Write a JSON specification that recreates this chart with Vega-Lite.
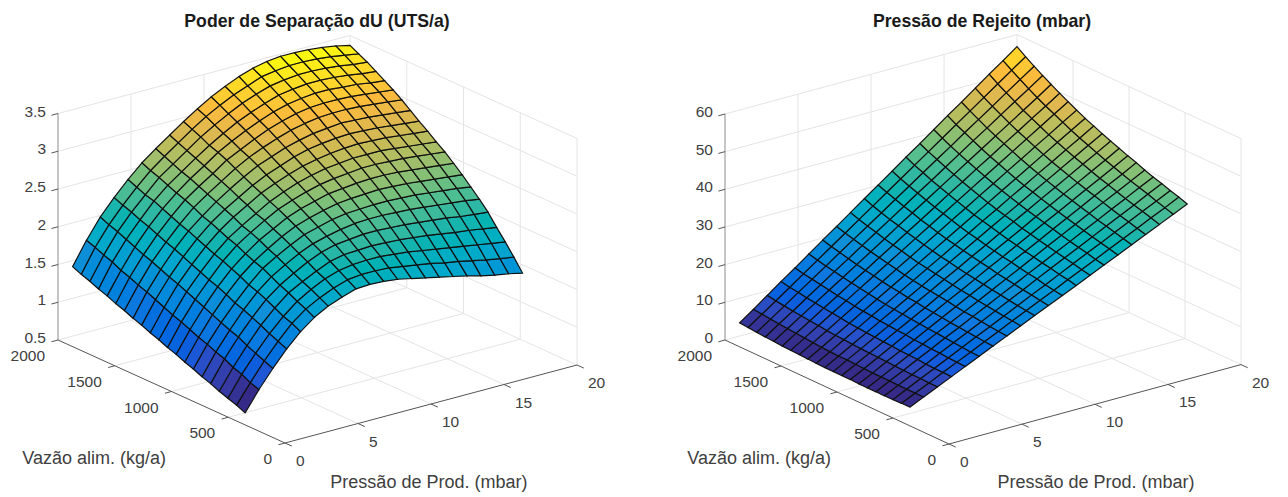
{"$schema":"https://vega.github.io/schema/vega-lite/v6.json","padding":{"left":0,"top":13,"right":0,"bottom":0},"background":"white","spacing":0,"config":{"view":{"stroke":null},"font":"Liberation Sans","title":{"font":"Liberation Sans","fontSize":17.7,"fontWeight":"bold","color":"#1a1a1a","offset":2}},
"datasets":{"gridL":[
{"x":1,"y":480,"z":0.52},{"x":1.95,"y":480,"z":0.78},{"x":2.9,"y":480,"z":1.01},{"x":3.85,"y":480,"z":1.22},{"x":4.8,"y":480,"z":1.4},{"x":5.75,"y":480,"z":1.54},{"x":6.7,"y":480,"z":1.64},{"x":7.65,"y":480,"z":1.71},{"x":8.6,"y":480,"z":1.77},{"x":9.55,"y":480,"z":1.78},{"x":10.5,"y":480,"z":1.77},{"x":11.45,"y":480,"z":1.75},{"x":12.4,"y":480,"z":1.71},{"x":13.35,"y":480,"z":1.67},{"x":14.3,"y":480,"z":1.63},{"x":15.25,"y":480,"z":1.59},{"x":16.2,"y":480,"z":1.55},{"x":17.15,"y":480,"z":1.5},{"x":18.1,"y":480,"z":1.46},{"x":19.05,"y":480,"z":1.43},{"x":20,"y":480,"z":1.39},
{"x":1,"y":556,"z":0.57},{"x":1.95,"y":556,"z":0.82},{"x":2.9,"y":556,"z":1.06},{"x":3.85,"y":556,"z":1.27},{"x":4.8,"y":556,"z":1.46},{"x":5.75,"y":556,"z":1.6},{"x":6.7,"y":556,"z":1.7},{"x":7.65,"y":556,"z":1.78},{"x":8.6,"y":556,"z":1.84},{"x":9.55,"y":556,"z":1.86},{"x":10.5,"y":556,"z":1.86},{"x":11.45,"y":556,"z":1.85},{"x":12.4,"y":556,"z":1.82},{"x":13.35,"y":556,"z":1.79},{"x":14.3,"y":556,"z":1.76},{"x":15.25,"y":556,"z":1.72},{"x":16.2,"y":556,"z":1.69},{"x":17.15,"y":556,"z":1.65},{"x":18.1,"y":556,"z":1.61},{"x":19.05,"y":556,"z":1.58},{"x":20,"y":556,"z":1.55},
{"x":1,"y":632,"z":0.61},{"x":1.95,"y":632,"z":0.88},{"x":2.9,"y":632,"z":1.11},{"x":3.85,"y":632,"z":1.32},{"x":4.8,"y":632,"z":1.5},{"x":5.75,"y":632,"z":1.65},{"x":6.7,"y":632,"z":1.76},{"x":7.65,"y":632,"z":1.85},{"x":8.6,"y":632,"z":1.91},{"x":9.55,"y":632,"z":1.94},{"x":10.5,"y":632,"z":1.95},{"x":11.45,"y":632,"z":1.95},{"x":12.4,"y":632,"z":1.93},{"x":13.35,"y":632,"z":1.91},{"x":14.3,"y":632,"z":1.88},{"x":15.25,"y":632,"z":1.85},{"x":16.2,"y":632,"z":1.82},{"x":17.15,"y":632,"z":1.79},{"x":18.1,"y":632,"z":1.76},{"x":19.05,"y":632,"z":1.73},{"x":20,"y":632,"z":1.7},
{"x":1,"y":708,"z":0.65},{"x":1.95,"y":708,"z":0.92},{"x":2.9,"y":708,"z":1.16},{"x":3.85,"y":708,"z":1.38},{"x":4.8,"y":708,"z":1.56},{"x":5.75,"y":708,"z":1.71},{"x":6.7,"y":708,"z":1.81},{"x":7.65,"y":708,"z":1.9},{"x":8.6,"y":708,"z":1.98},{"x":9.55,"y":708,"z":2.02},{"x":10.5,"y":708,"z":2.03},{"x":11.45,"y":708,"z":2.04},{"x":12.4,"y":708,"z":2.03},{"x":13.35,"y":708,"z":2.02},{"x":14.3,"y":708,"z":2},{"x":15.25,"y":708,"z":1.98},{"x":16.2,"y":708,"z":1.95},{"x":17.15,"y":708,"z":1.92},{"x":18.1,"y":708,"z":1.9},{"x":19.05,"y":708,"z":1.87},{"x":20,"y":708,"z":1.84},
{"x":1,"y":784,"z":0.7},{"x":1.95,"y":784,"z":0.98},{"x":2.9,"y":784,"z":1.22},{"x":3.85,"y":784,"z":1.43},{"x":4.8,"y":784,"z":1.62},{"x":5.75,"y":784,"z":1.76},{"x":6.7,"y":784,"z":1.87},{"x":7.65,"y":784,"z":1.97},{"x":8.6,"y":784,"z":2.05},{"x":9.55,"y":784,"z":2.1},{"x":10.5,"y":784,"z":2.12},{"x":11.45,"y":784,"z":2.14},{"x":12.4,"y":784,"z":2.14},{"x":13.35,"y":784,"z":2.13},{"x":14.3,"y":784,"z":2.12},{"x":15.25,"y":784,"z":2.1},{"x":16.2,"y":784,"z":2.08},{"x":17.15,"y":784,"z":2.06},{"x":18.1,"y":784,"z":2.03},{"x":19.05,"y":784,"z":2.01},{"x":20,"y":784,"z":1.99},
{"x":1,"y":860,"z":0.74},{"x":1.95,"y":860,"z":1.02},{"x":2.9,"y":860,"z":1.26},{"x":3.85,"y":860,"z":1.48},{"x":4.8,"y":860,"z":1.67},{"x":5.75,"y":860,"z":1.82},{"x":6.7,"y":860,"z":1.93},{"x":7.65,"y":860,"z":2.03},{"x":8.6,"y":860,"z":2.11},{"x":9.55,"y":860,"z":2.16},{"x":10.5,"y":860,"z":2.2},{"x":11.45,"y":860,"z":2.23},{"x":12.4,"y":860,"z":2.24},{"x":13.35,"y":860,"z":2.24},{"x":14.3,"y":860,"z":2.23},{"x":15.25,"y":860,"z":2.22},{"x":16.2,"y":860,"z":2.2},{"x":17.15,"y":860,"z":2.18},{"x":18.1,"y":860,"z":2.16},{"x":19.05,"y":860,"z":2.14},{"x":20,"y":860,"z":2.11},
{"x":1,"y":936,"z":0.79},{"x":1.95,"y":936,"z":1.07},{"x":2.9,"y":936,"z":1.31},{"x":3.85,"y":936,"z":1.52},{"x":4.8,"y":936,"z":1.71},{"x":5.75,"y":936,"z":1.88},{"x":6.7,"y":936,"z":1.99},{"x":7.65,"y":936,"z":2.09},{"x":8.6,"y":936,"z":2.18},{"x":9.55,"y":936,"z":2.23},{"x":10.5,"y":936,"z":2.28},{"x":11.45,"y":936,"z":2.31},{"x":12.4,"y":936,"z":2.32},{"x":13.35,"y":936,"z":2.33},{"x":14.3,"y":936,"z":2.33},{"x":15.25,"y":936,"z":2.32},{"x":16.2,"y":936,"z":2.31},{"x":17.15,"y":936,"z":2.29},{"x":18.1,"y":936,"z":2.27},{"x":19.05,"y":936,"z":2.25},{"x":20,"y":936,"z":2.22},
{"x":1,"y":1012,"z":0.83},{"x":1.95,"y":1012,"z":1.11},{"x":2.9,"y":1012,"z":1.36},{"x":3.85,"y":1012,"z":1.58},{"x":4.8,"y":1012,"z":1.77},{"x":5.75,"y":1012,"z":1.92},{"x":6.7,"y":1012,"z":2.04},{"x":7.65,"y":1012,"z":2.15},{"x":8.6,"y":1012,"z":2.24},{"x":9.55,"y":1012,"z":2.3},{"x":10.5,"y":1012,"z":2.35},{"x":11.45,"y":1012,"z":2.39},{"x":12.4,"y":1012,"z":2.41},{"x":13.35,"y":1012,"z":2.42},{"x":14.3,"y":1012,"z":2.43},{"x":15.25,"y":1012,"z":2.42},{"x":16.2,"y":1012,"z":2.41},{"x":17.15,"y":1012,"z":2.39},{"x":18.1,"y":1012,"z":2.37},{"x":19.05,"y":1012,"z":2.35},{"x":20,"y":1012,"z":2.33},
{"x":1,"y":1088,"z":0.88},{"x":1.95,"y":1088,"z":1.16},{"x":2.9,"y":1088,"z":1.41},{"x":3.85,"y":1088,"z":1.63},{"x":4.8,"y":1088,"z":1.82},{"x":5.75,"y":1088,"z":1.97},{"x":6.7,"y":1088,"z":2.1},{"x":7.65,"y":1088,"z":2.2},{"x":8.6,"y":1088,"z":2.3},{"x":9.55,"y":1088,"z":2.37},{"x":10.5,"y":1088,"z":2.42},{"x":11.45,"y":1088,"z":2.47},{"x":12.4,"y":1088,"z":2.49},{"x":13.35,"y":1088,"z":2.51},{"x":14.3,"y":1088,"z":2.52},{"x":15.25,"y":1088,"z":2.52},{"x":16.2,"y":1088,"z":2.51},{"x":17.15,"y":1088,"z":2.49},{"x":18.1,"y":1088,"z":2.47},{"x":19.05,"y":1088,"z":2.45},{"x":20,"y":1088,"z":2.43},
{"x":1,"y":1164,"z":0.92},{"x":1.95,"y":1164,"z":1.21},{"x":2.9,"y":1164,"z":1.46},{"x":3.85,"y":1164,"z":1.67},{"x":4.8,"y":1164,"z":1.87},{"x":5.75,"y":1164,"z":2.03},{"x":6.7,"y":1164,"z":2.15},{"x":7.65,"y":1164,"z":2.26},{"x":8.6,"y":1164,"z":2.36},{"x":9.55,"y":1164,"z":2.43},{"x":10.5,"y":1164,"z":2.49},{"x":11.45,"y":1164,"z":2.54},{"x":12.4,"y":1164,"z":2.57},{"x":13.35,"y":1164,"z":2.59},{"x":14.3,"y":1164,"z":2.61},{"x":15.25,"y":1164,"z":2.61},{"x":16.2,"y":1164,"z":2.6},{"x":17.15,"y":1164,"z":2.59},{"x":18.1,"y":1164,"z":2.57},{"x":19.05,"y":1164,"z":2.55},{"x":20,"y":1164,"z":2.53},
{"x":1,"y":1240,"z":0.97},{"x":1.95,"y":1240,"z":1.25},{"x":2.9,"y":1240,"z":1.51},{"x":3.85,"y":1240,"z":1.72},{"x":4.8,"y":1240,"z":1.91},{"x":5.75,"y":1240,"z":2.07},{"x":6.7,"y":1240,"z":2.19},{"x":7.65,"y":1240,"z":2.3},{"x":8.6,"y":1240,"z":2.41},{"x":9.55,"y":1240,"z":2.49},{"x":10.5,"y":1240,"z":2.56},{"x":11.45,"y":1240,"z":2.61},{"x":12.4,"y":1240,"z":2.65},{"x":13.35,"y":1240,"z":2.67},{"x":14.3,"y":1240,"z":2.69},{"x":15.25,"y":1240,"z":2.69},{"x":16.2,"y":1240,"z":2.69},{"x":17.15,"y":1240,"z":2.67},{"x":18.1,"y":1240,"z":2.65},{"x":19.05,"y":1240,"z":2.63},{"x":20,"y":1240,"z":2.61},
{"x":1,"y":1316,"z":1.01},{"x":1.95,"y":1316,"z":1.3},{"x":2.9,"y":1316,"z":1.56},{"x":3.85,"y":1316,"z":1.77},{"x":4.8,"y":1316,"z":1.96},{"x":5.75,"y":1316,"z":2.12},{"x":6.7,"y":1316,"z":2.25},{"x":7.65,"y":1316,"z":2.36},{"x":8.6,"y":1316,"z":2.47},{"x":9.55,"y":1316,"z":2.55},{"x":10.5,"y":1316,"z":2.62},{"x":11.45,"y":1316,"z":2.68},{"x":12.4,"y":1316,"z":2.72},{"x":13.35,"y":1316,"z":2.75},{"x":14.3,"y":1316,"z":2.77},{"x":15.25,"y":1316,"z":2.78},{"x":16.2,"y":1316,"z":2.77},{"x":17.15,"y":1316,"z":2.76},{"x":18.1,"y":1316,"z":2.74},{"x":19.05,"y":1316,"z":2.72},{"x":20,"y":1316,"z":2.7},
{"x":1,"y":1392,"z":1.06},{"x":1.95,"y":1392,"z":1.35},{"x":2.9,"y":1392,"z":1.6},{"x":3.85,"y":1392,"z":1.82},{"x":4.8,"y":1392,"z":2.01},{"x":5.75,"y":1392,"z":2.17},{"x":6.7,"y":1392,"z":2.3},{"x":7.65,"y":1392,"z":2.41},{"x":8.6,"y":1392,"z":2.52},{"x":9.55,"y":1392,"z":2.61},{"x":10.5,"y":1392,"z":2.68},{"x":11.45,"y":1392,"z":2.75},{"x":12.4,"y":1392,"z":2.8},{"x":13.35,"y":1392,"z":2.83},{"x":14.3,"y":1392,"z":2.85},{"x":15.25,"y":1392,"z":2.86},{"x":16.2,"y":1392,"z":2.85},{"x":17.15,"y":1392,"z":2.84},{"x":18.1,"y":1392,"z":2.82},{"x":19.05,"y":1392,"z":2.8},{"x":20,"y":1392,"z":2.78},
{"x":1,"y":1468,"z":1.1},{"x":1.95,"y":1468,"z":1.4},{"x":2.9,"y":1468,"z":1.65},{"x":3.85,"y":1468,"z":1.87},{"x":4.8,"y":1468,"z":2.06},{"x":5.75,"y":1468,"z":2.21},{"x":6.7,"y":1468,"z":2.35},{"x":7.65,"y":1468,"z":2.47},{"x":8.6,"y":1468,"z":2.58},{"x":9.55,"y":1468,"z":2.68},{"x":10.5,"y":1468,"z":2.75},{"x":11.45,"y":1468,"z":2.82},{"x":12.4,"y":1468,"z":2.87},{"x":13.35,"y":1468,"z":2.91},{"x":14.3,"y":1468,"z":2.93},{"x":15.25,"y":1468,"z":2.95},{"x":16.2,"y":1468,"z":2.94},{"x":17.15,"y":1468,"z":2.93},{"x":18.1,"y":1468,"z":2.91},{"x":19.05,"y":1468,"z":2.89},{"x":20,"y":1468,"z":2.87},
{"x":1,"y":1544,"z":1.15},{"x":1.95,"y":1544,"z":1.44},{"x":2.9,"y":1544,"z":1.7},{"x":3.85,"y":1544,"z":1.91},{"x":4.8,"y":1544,"z":2.1},{"x":5.75,"y":1544,"z":2.27},{"x":6.7,"y":1544,"z":2.4},{"x":7.65,"y":1544,"z":2.52},{"x":8.6,"y":1544,"z":2.64},{"x":9.55,"y":1544,"z":2.74},{"x":10.5,"y":1544,"z":2.82},{"x":11.45,"y":1544,"z":2.89},{"x":12.4,"y":1544,"z":2.95},{"x":13.35,"y":1544,"z":2.99},{"x":14.3,"y":1544,"z":3.02},{"x":15.25,"y":1544,"z":3.03},{"x":16.2,"y":1544,"z":3.03},{"x":17.15,"y":1544,"z":3.02},{"x":18.1,"y":1544,"z":3},{"x":19.05,"y":1544,"z":2.98},{"x":20,"y":1544,"z":2.96},
{"x":1,"y":1620,"z":1.19},{"x":1.95,"y":1620,"z":1.49},{"x":2.9,"y":1620,"z":1.74},{"x":3.85,"y":1620,"z":1.96},{"x":4.8,"y":1620,"z":2.15},{"x":5.75,"y":1620,"z":2.32},{"x":6.7,"y":1620,"z":2.45},{"x":7.65,"y":1620,"z":2.57},{"x":8.6,"y":1620,"z":2.7},{"x":9.55,"y":1620,"z":2.79},{"x":10.5,"y":1620,"z":2.88},{"x":11.45,"y":1620,"z":2.96},{"x":12.4,"y":1620,"z":3.02},{"x":13.35,"y":1620,"z":3.07},{"x":14.3,"y":1620,"z":3.1},{"x":15.25,"y":1620,"z":3.11},{"x":16.2,"y":1620,"z":3.11},{"x":17.15,"y":1620,"z":3.1},{"x":18.1,"y":1620,"z":3.08},{"x":19.05,"y":1620,"z":3.06},{"x":20,"y":1620,"z":3.04},
{"x":1,"y":1696,"z":1.24},{"x":1.95,"y":1696,"z":1.53},{"x":2.9,"y":1696,"z":1.79},{"x":3.85,"y":1696,"z":2.01},{"x":4.8,"y":1696,"z":2.2},{"x":5.75,"y":1696,"z":2.36},{"x":6.7,"y":1696,"z":2.5},{"x":7.65,"y":1696,"z":2.62},{"x":8.6,"y":1696,"z":2.75},{"x":9.55,"y":1696,"z":2.85},{"x":10.5,"y":1696,"z":2.94},{"x":11.45,"y":1696,"z":3.02},{"x":12.4,"y":1696,"z":3.09},{"x":13.35,"y":1696,"z":3.14},{"x":14.3,"y":1696,"z":3.17},{"x":15.25,"y":1696,"z":3.19},{"x":16.2,"y":1696,"z":3.19},{"x":17.15,"y":1696,"z":3.17},{"x":18.1,"y":1696,"z":3.16},{"x":19.05,"y":1696,"z":3.13},{"x":20,"y":1696,"z":3.11},
{"x":1,"y":1772,"z":1.28},{"x":1.95,"y":1772,"z":1.59},{"x":2.9,"y":1772,"z":1.84},{"x":3.85,"y":1772,"z":2.05},{"x":4.8,"y":1772,"z":2.25},{"x":5.75,"y":1772,"z":2.41},{"x":6.7,"y":1772,"z":2.54},{"x":7.65,"y":1772,"z":2.67},{"x":8.6,"y":1772,"z":2.79},{"x":9.55,"y":1772,"z":2.9},{"x":10.5,"y":1772,"z":3},{"x":11.45,"y":1772,"z":3.08},{"x":12.4,"y":1772,"z":3.15},{"x":13.35,"y":1772,"z":3.21},{"x":14.3,"y":1772,"z":3.24},{"x":15.25,"y":1772,"z":3.26},{"x":16.2,"y":1772,"z":3.26},{"x":17.15,"y":1772,"z":3.25},{"x":18.1,"y":1772,"z":3.23},{"x":19.05,"y":1772,"z":3.2},{"x":20,"y":1772,"z":3.18},
{"x":1,"y":1848,"z":1.33},{"x":1.95,"y":1848,"z":1.63},{"x":2.9,"y":1848,"z":1.89},{"x":3.85,"y":1848,"z":2.1},{"x":4.8,"y":1848,"z":2.28},{"x":5.75,"y":1848,"z":2.46},{"x":6.7,"y":1848,"z":2.59},{"x":7.65,"y":1848,"z":2.72},{"x":8.6,"y":1848,"z":2.85},{"x":9.55,"y":1848,"z":2.96},{"x":10.5,"y":1848,"z":3.06},{"x":11.45,"y":1848,"z":3.15},{"x":12.4,"y":1848,"z":3.22},{"x":13.35,"y":1848,"z":3.28},{"x":14.3,"y":1848,"z":3.31},{"x":15.25,"y":1848,"z":3.33},{"x":16.2,"y":1848,"z":3.33},{"x":17.15,"y":1848,"z":3.32},{"x":18.1,"y":1848,"z":3.3},{"x":19.05,"y":1848,"z":3.27},{"x":20,"y":1848,"z":3.25},
{"x":1,"y":1924,"z":1.37},{"x":1.95,"y":1924,"z":1.68},{"x":2.9,"y":1924,"z":1.93},{"x":3.85,"y":1924,"z":2.14},{"x":4.8,"y":1924,"z":2.33},{"x":5.75,"y":1924,"z":2.5},{"x":6.7,"y":1924,"z":2.64},{"x":7.65,"y":1924,"z":2.77},{"x":8.6,"y":1924,"z":2.9},{"x":9.55,"y":1924,"z":3.02},{"x":10.5,"y":1924,"z":3.12},{"x":11.45,"y":1924,"z":3.21},{"x":12.4,"y":1924,"z":3.28},{"x":13.35,"y":1924,"z":3.35},{"x":14.3,"y":1924,"z":3.38},{"x":15.25,"y":1924,"z":3.4},{"x":16.2,"y":1924,"z":3.4},{"x":17.15,"y":1924,"z":3.39},{"x":18.1,"y":1924,"z":3.37},{"x":19.05,"y":1924,"z":3.34},{"x":20,"y":1924,"z":3.31},
{"x":1,"y":2000,"z":1.42},{"x":1.95,"y":2000,"z":1.72},{"x":2.9,"y":2000,"z":1.98},{"x":3.85,"y":2000,"z":2.19},{"x":4.8,"y":2000,"z":2.38},{"x":5.75,"y":2000,"z":2.55},{"x":6.7,"y":2000,"z":2.69},{"x":7.65,"y":2000,"z":2.82},{"x":8.6,"y":2000,"z":2.95},{"x":9.55,"y":2000,"z":3.07},{"x":10.5,"y":2000,"z":3.18},{"x":11.45,"y":2000,"z":3.27},{"x":12.4,"y":2000,"z":3.35},{"x":13.35,"y":2000,"z":3.41},{"x":14.3,"y":2000,"z":3.45},{"x":15.25,"y":2000,"z":3.47},{"x":16.2,"y":2000,"z":3.47},{"x":17.15,"y":2000,"z":3.46},{"x":18.1,"y":2000,"z":3.44},{"x":19.05,"y":2000,"z":3.41},{"x":20,"y":2000,"z":3.37}],
"gridR":[
{"x":1,"y":480,"z":2.1},{"x":1.95,"y":480,"z":3.8},{"x":2.9,"y":480,"z":5.5},{"x":3.85,"y":480,"z":7.2},{"x":4.8,"y":480,"z":8.9},{"x":5.75,"y":480,"z":10.6},{"x":6.7,"y":480,"z":12.3},{"x":7.65,"y":480,"z":14},{"x":8.6,"y":480,"z":15.7},{"x":9.55,"y":480,"z":17.4},{"x":10.5,"y":480,"z":19.05},{"x":11.45,"y":480,"z":20.7},{"x":12.4,"y":480,"z":22.4},{"x":13.35,"y":480,"z":24.1},{"x":14.3,"y":480,"z":25.8},{"x":15.25,"y":480,"z":27.5},{"x":16.2,"y":480,"z":29.2},{"x":17.15,"y":480,"z":30.9},{"x":18.1,"y":480,"z":32.6},{"x":19.05,"y":480,"z":34.3},{"x":20,"y":480,"z":36},
{"x":1,"y":556,"z":2.1},{"x":1.95,"y":556,"z":3.8},{"x":2.9,"y":556,"z":5.5},{"x":3.85,"y":556,"z":7.3},{"x":4.8,"y":556,"z":9},{"x":5.75,"y":556,"z":10.7},{"x":6.7,"y":556,"z":12.5},{"x":7.65,"y":556,"z":14.2},{"x":8.6,"y":556,"z":16},{"x":9.55,"y":556,"z":17.7},{"x":10.5,"y":556,"z":19.4},{"x":11.45,"y":556,"z":21.1},{"x":12.4,"y":556,"z":22.9},{"x":13.35,"y":556,"z":24.6},{"x":14.3,"y":556,"z":26.3},{"x":15.25,"y":556,"z":28.1},{"x":16.2,"y":556,"z":29.8},{"x":17.15,"y":556,"z":31.5},{"x":18.1,"y":556,"z":33.3},{"x":19.05,"y":556,"z":35},{"x":20,"y":556,"z":36.8},
{"x":1,"y":632,"z":2},{"x":1.95,"y":632,"z":3.8},{"x":2.9,"y":632,"z":5.6},{"x":3.85,"y":632,"z":7.3},{"x":4.8,"y":632,"z":9.1},{"x":5.75,"y":632,"z":10.9},{"x":6.7,"y":632,"z":12.7},{"x":7.65,"y":632,"z":14.4},{"x":8.6,"y":632,"z":16.2},{"x":9.55,"y":632,"z":18},{"x":10.5,"y":632,"z":19.8},{"x":11.45,"y":632,"z":21.5},{"x":12.4,"y":632,"z":23.3},{"x":13.35,"y":632,"z":25.1},{"x":14.3,"y":632,"z":26.9},{"x":15.25,"y":632,"z":28.6},{"x":16.2,"y":632,"z":30.4},{"x":17.15,"y":632,"z":32.2},{"x":18.1,"y":632,"z":34},{"x":19.05,"y":632,"z":35.7},{"x":20,"y":632,"z":37.5},
{"x":1,"y":708,"z":2},{"x":1.95,"y":708,"z":3.8},{"x":2.9,"y":708,"z":5.6},{"x":3.85,"y":708,"z":7.4},{"x":4.8,"y":708,"z":9.3},{"x":5.75,"y":708,"z":11.1},{"x":6.7,"y":708,"z":12.9},{"x":7.65,"y":708,"z":14.7},{"x":8.6,"y":708,"z":16.5},{"x":9.55,"y":708,"z":18.3},{"x":10.5,"y":708,"z":20.1},{"x":11.45,"y":708,"z":22},{"x":12.4,"y":708,"z":23.8},{"x":13.35,"y":708,"z":25.6},{"x":14.3,"y":708,"z":27.4},{"x":15.25,"y":708,"z":29.2},{"x":16.2,"y":708,"z":31},{"x":17.15,"y":708,"z":32.8},{"x":18.1,"y":708,"z":34.6},{"x":19.05,"y":708,"z":36.5},{"x":20,"y":708,"z":38.3},
{"x":1,"y":784,"z":2},{"x":1.95,"y":784,"z":3.9},{"x":2.9,"y":784,"z":5.7},{"x":3.85,"y":784,"z":7.6},{"x":4.8,"y":784,"z":9.4},{"x":5.75,"y":784,"z":11.3},{"x":6.7,"y":784,"z":13.1},{"x":7.65,"y":784,"z":15},{"x":8.6,"y":784,"z":16.8},{"x":9.55,"y":784,"z":18.7},{"x":10.5,"y":784,"z":20.5},{"x":11.45,"y":784,"z":22.4},{"x":12.4,"y":784,"z":24.2},{"x":13.35,"y":784,"z":26.1},{"x":14.3,"y":784,"z":27.9},{"x":15.25,"y":784,"z":29.8},{"x":16.2,"y":784,"z":31.6},{"x":17.15,"y":784,"z":33.5},{"x":18.1,"y":784,"z":35.3},{"x":19.05,"y":784,"z":37.2},{"x":20,"y":784,"z":39},
{"x":1,"y":860,"z":2},{"x":1.95,"y":860,"z":3.9},{"x":2.9,"y":860,"z":5.8},{"x":3.85,"y":860,"z":7.7},{"x":4.8,"y":860,"z":9.6},{"x":5.75,"y":860,"z":11.5},{"x":6.7,"y":860,"z":13.3},{"x":7.65,"y":860,"z":15.2},{"x":8.6,"y":860,"z":17.1},{"x":9.55,"y":860,"z":19},{"x":10.5,"y":860,"z":20.9},{"x":11.45,"y":860,"z":22.8},{"x":12.4,"y":860,"z":24.7},{"x":13.35,"y":860,"z":26.6},{"x":14.3,"y":860,"z":28.5},{"x":15.25,"y":860,"z":30.4},{"x":16.2,"y":860,"z":32.3},{"x":17.15,"y":860,"z":34.2},{"x":18.1,"y":860,"z":36},{"x":19.05,"y":860,"z":37.9},{"x":20,"y":860,"z":39.8},
{"x":1,"y":936,"z":2},{"x":1.95,"y":936,"z":3.9},{"x":2.9,"y":936,"z":5.9},{"x":3.85,"y":936,"z":7.8},{"x":4.8,"y":936,"z":9.7},{"x":5.75,"y":936,"z":11.7},{"x":6.7,"y":936,"z":13.6},{"x":7.65,"y":936,"z":15.5},{"x":8.6,"y":936,"z":17.5},{"x":9.55,"y":936,"z":19.4},{"x":10.5,"y":936,"z":21.3},{"x":11.45,"y":936,"z":23.3},{"x":12.4,"y":936,"z":25.2},{"x":13.35,"y":936,"z":27.1},{"x":14.3,"y":936,"z":29.1},{"x":15.25,"y":936,"z":31},{"x":16.2,"y":936,"z":32.9},{"x":17.15,"y":936,"z":34.9},{"x":18.1,"y":936,"z":36.8},{"x":19.05,"y":936,"z":38.7},{"x":20,"y":936,"z":40.7},
{"x":1,"y":1012,"z":2.1},{"x":1.95,"y":1012,"z":4},{"x":2.9,"y":1012,"z":6},{"x":3.85,"y":1012,"z":8},{"x":4.8,"y":1012,"z":10},{"x":5.75,"y":1012,"z":11.9},{"x":6.7,"y":1012,"z":13.9},{"x":7.65,"y":1012,"z":15.9},{"x":8.6,"y":1012,"z":17.8},{"x":9.55,"y":1012,"z":19.8},{"x":10.5,"y":1012,"z":21.8},{"x":11.45,"y":1012,"z":23.7},{"x":12.4,"y":1012,"z":25.7},{"x":13.35,"y":1012,"z":27.7},{"x":14.3,"y":1012,"z":29.7},{"x":15.25,"y":1012,"z":31.6},{"x":16.2,"y":1012,"z":33.6},{"x":17.15,"y":1012,"z":35.6},{"x":18.1,"y":1012,"z":37.5},{"x":19.05,"y":1012,"z":39.5},{"x":20,"y":1012,"z":41.5},
{"x":1,"y":1088,"z":2.1},{"x":1.95,"y":1088,"z":4.1},{"x":2.9,"y":1088,"z":6.1},{"x":3.85,"y":1088,"z":8.1},{"x":4.8,"y":1088,"z":10.1},{"x":5.75,"y":1088,"z":12.1},{"x":6.7,"y":1088,"z":14.1},{"x":7.65,"y":1088,"z":16.2},{"x":8.6,"y":1088,"z":18.2},{"x":9.55,"y":1088,"z":20.2},{"x":10.5,"y":1088,"z":22.2},{"x":11.45,"y":1088,"z":24.2},{"x":12.4,"y":1088,"z":26.2},{"x":13.35,"y":1088,"z":28.2},{"x":14.3,"y":1088,"z":30.3},{"x":15.25,"y":1088,"z":32.3},{"x":16.2,"y":1088,"z":34.3},{"x":17.15,"y":1088,"z":36.3},{"x":18.1,"y":1088,"z":38.3},{"x":19.05,"y":1088,"z":40.3},{"x":20,"y":1088,"z":42.4},
{"x":1,"y":1164,"z":2.1},{"x":1.95,"y":1164,"z":4.2},{"x":2.9,"y":1164,"z":6.2},{"x":3.85,"y":1164,"z":8.3},{"x":4.8,"y":1164,"z":10.3},{"x":5.75,"y":1164,"z":12.4},{"x":6.7,"y":1164,"z":14.5},{"x":7.65,"y":1164,"z":16.5},{"x":8.6,"y":1164,"z":18.6},{"x":9.55,"y":1164,"z":20.6},{"x":10.5,"y":1164,"z":22.7},{"x":11.45,"y":1164,"z":24.7},{"x":12.4,"y":1164,"z":26.8},{"x":13.35,"y":1164,"z":28.9},{"x":14.3,"y":1164,"z":30.9},{"x":15.25,"y":1164,"z":33},{"x":16.2,"y":1164,"z":35},{"x":17.15,"y":1164,"z":37.1},{"x":18.1,"y":1164,"z":39.2},{"x":19.05,"y":1164,"z":41.2},{"x":20,"y":1164,"z":43.3},
{"x":1,"y":1240,"z":2.1},{"x":1.95,"y":1240,"z":4.2},{"x":2.9,"y":1240,"z":6.3},{"x":3.85,"y":1240,"z":8.4},{"x":4.8,"y":1240,"z":10.5},{"x":5.75,"y":1240,"z":12.6},{"x":6.7,"y":1240,"z":14.7},{"x":7.65,"y":1240,"z":16.8},{"x":8.6,"y":1240,"z":19},{"x":9.55,"y":1240,"z":21.1},{"x":10.5,"y":1240,"z":23.2},{"x":11.45,"y":1240,"z":25.3},{"x":12.4,"y":1240,"z":27.4},{"x":13.35,"y":1240,"z":29.5},{"x":14.3,"y":1240,"z":31.6},{"x":15.25,"y":1240,"z":33.7},{"x":16.2,"y":1240,"z":35.8},{"x":17.15,"y":1240,"z":37.9},{"x":18.1,"y":1240,"z":40},{"x":19.05,"y":1240,"z":42.1},{"x":20,"y":1240,"z":44.2},
{"x":1,"y":1316,"z":2.2},{"x":1.95,"y":1316,"z":4.3},{"x":2.9,"y":1316,"z":6.5},{"x":3.85,"y":1316,"z":8.6},{"x":4.8,"y":1316,"z":10.8},{"x":5.75,"y":1316,"z":12.9},{"x":6.7,"y":1316,"z":15.1},{"x":7.65,"y":1316,"z":17.2},{"x":8.6,"y":1316,"z":19.4},{"x":9.55,"y":1316,"z":21.5},{"x":10.5,"y":1316,"z":23.7},{"x":11.45,"y":1316,"z":25.8},{"x":12.4,"y":1316,"z":28},{"x":13.35,"y":1316,"z":30.1},{"x":14.3,"y":1316,"z":32.3},{"x":15.25,"y":1316,"z":34.4},{"x":16.2,"y":1316,"z":36.6},{"x":17.15,"y":1316,"z":38.7},{"x":18.1,"y":1316,"z":40.9},{"x":19.05,"y":1316,"z":43},{"x":20,"y":1316,"z":45.2},
{"x":1,"y":1392,"z":2.3},{"x":1.95,"y":1392,"z":4.4},{"x":2.9,"y":1392,"z":6.6},{"x":3.85,"y":1392,"z":8.8},{"x":4.8,"y":1392,"z":11},{"x":5.75,"y":1392,"z":13.2},{"x":6.7,"y":1392,"z":15.4},{"x":7.65,"y":1392,"z":17.6},{"x":8.6,"y":1392,"z":19.8},{"x":9.55,"y":1392,"z":22},{"x":10.5,"y":1392,"z":24.2},{"x":11.45,"y":1392,"z":26.4},{"x":12.4,"y":1392,"z":28.6},{"x":13.35,"y":1392,"z":30.8},{"x":14.3,"y":1392,"z":33},{"x":15.25,"y":1392,"z":35.2},{"x":16.2,"y":1392,"z":37.4},{"x":17.15,"y":1392,"z":39.6},{"x":18.1,"y":1392,"z":41.8},{"x":19.05,"y":1392,"z":44},{"x":20,"y":1392,"z":46.2},
{"x":1,"y":1468,"z":2.4},{"x":1.95,"y":1468,"z":4.6},{"x":2.9,"y":1468,"z":6.8},{"x":3.85,"y":1468,"z":9.1},{"x":4.8,"y":1468,"z":11.3},{"x":5.75,"y":1468,"z":13.6},{"x":6.7,"y":1468,"z":15.8},{"x":7.65,"y":1468,"z":18.1},{"x":8.6,"y":1468,"z":20.3},{"x":9.55,"y":1468,"z":22.6},{"x":10.5,"y":1468,"z":24.8},{"x":11.45,"y":1468,"z":27.1},{"x":12.4,"y":1468,"z":29.3},{"x":13.35,"y":1468,"z":31.6},{"x":14.3,"y":1468,"z":33.8},{"x":15.25,"y":1468,"z":36.1},{"x":16.2,"y":1468,"z":38.3},{"x":17.15,"y":1468,"z":40.6},{"x":18.1,"y":1468,"z":42.8},{"x":19.05,"y":1468,"z":45.1},{"x":20,"y":1468,"z":47.3},
{"x":1,"y":1544,"z":2.5},{"x":1.95,"y":1544,"z":4.8},{"x":2.9,"y":1544,"z":7.1},{"x":3.85,"y":1544,"z":9.4},{"x":4.8,"y":1544,"z":11.7},{"x":5.75,"y":1544,"z":14},{"x":6.7,"y":1544,"z":16.3},{"x":7.65,"y":1544,"z":18.6},{"x":8.6,"y":1544,"z":20.9},{"x":9.55,"y":1544,"z":23.2},{"x":10.5,"y":1544,"z":25.5},{"x":11.45,"y":1544,"z":27.8},{"x":12.4,"y":1544,"z":30.1},{"x":13.35,"y":1544,"z":32.4},{"x":14.3,"y":1544,"z":34.7},{"x":15.25,"y":1544,"z":37},{"x":16.2,"y":1544,"z":39.3},{"x":17.15,"y":1544,"z":41.6},{"x":18.1,"y":1544,"z":43.9},{"x":19.05,"y":1544,"z":46.2},{"x":20,"y":1544,"z":48.5},
{"x":1,"y":1620,"z":2.6},{"x":1.95,"y":1620,"z":5},{"x":2.9,"y":1620,"z":7.3},{"x":3.85,"y":1620,"z":9.7},{"x":4.8,"y":1620,"z":12},{"x":5.75,"y":1620,"z":14.4},{"x":6.7,"y":1620,"z":16.7},{"x":7.65,"y":1620,"z":19.1},{"x":8.6,"y":1620,"z":21.4},{"x":9.55,"y":1620,"z":23.8},{"x":10.5,"y":1620,"z":26.1},{"x":11.45,"y":1620,"z":28.5},{"x":12.4,"y":1620,"z":30.9},{"x":13.35,"y":1620,"z":33.2},{"x":14.3,"y":1620,"z":35.6},{"x":15.25,"y":1620,"z":37.9},{"x":16.2,"y":1620,"z":40.3},{"x":17.15,"y":1620,"z":42.6},{"x":18.1,"y":1620,"z":45},{"x":19.05,"y":1620,"z":47.3},{"x":20,"y":1620,"z":49.7},
{"x":1,"y":1696,"z":2.8},{"x":1.95,"y":1696,"z":5.2},{"x":2.9,"y":1696,"z":7.6},{"x":3.85,"y":1696,"z":10},{"x":4.8,"y":1696,"z":12.4},{"x":5.75,"y":1696,"z":14.8},{"x":6.7,"y":1696,"z":17.2},{"x":7.65,"y":1696,"z":19.6},{"x":8.6,"y":1696,"z":22},{"x":9.55,"y":1696,"z":24.5},{"x":10.5,"y":1696,"z":26.9},{"x":11.45,"y":1696,"z":29.3},{"x":12.4,"y":1696,"z":31.7},{"x":13.35,"y":1696,"z":34.1},{"x":14.3,"y":1696,"z":36.5},{"x":15.25,"y":1696,"z":38.9},{"x":16.2,"y":1696,"z":41.3},{"x":17.15,"y":1696,"z":43.7},{"x":18.1,"y":1696,"z":46.1},{"x":19.05,"y":1696,"z":48.5},{"x":20,"y":1696,"z":51},
{"x":1,"y":1772,"z":2.9},{"x":1.95,"y":1772,"z":5.4},{"x":2.9,"y":1772,"z":7.8},{"x":3.85,"y":1772,"z":10.3},{"x":4.8,"y":1772,"z":12.8},{"x":5.75,"y":1772,"z":15.3},{"x":6.7,"y":1772,"z":17.7},{"x":7.65,"y":1772,"z":20.2},{"x":8.6,"y":1772,"z":22.7},{"x":9.55,"y":1772,"z":25.1},{"x":10.5,"y":1772,"z":27.6},{"x":11.45,"y":1772,"z":30.1},{"x":12.4,"y":1772,"z":32.5},{"x":13.35,"y":1772,"z":35},{"x":14.3,"y":1772,"z":37.5},{"x":15.25,"y":1772,"z":40},{"x":16.2,"y":1772,"z":42.4},{"x":17.15,"y":1772,"z":44.9},{"x":18.1,"y":1772,"z":47.4},{"x":19.05,"y":1772,"z":49.8},{"x":20,"y":1772,"z":52.3},
{"x":1,"y":1848,"z":3.1},{"x":1.95,"y":1848,"z":5.6},{"x":2.9,"y":1848,"z":8.1},{"x":3.85,"y":1848,"z":10.7},{"x":4.8,"y":1848,"z":13.2},{"x":5.75,"y":1848,"z":15.7},{"x":6.7,"y":1848,"z":18.3},{"x":7.65,"y":1848,"z":20.8},{"x":8.6,"y":1848,"z":23.3},{"x":9.55,"y":1848,"z":25.8},{"x":10.5,"y":1848,"z":28.4},{"x":11.45,"y":1848,"z":30.9},{"x":12.4,"y":1848,"z":33.5},{"x":13.35,"y":1848,"z":36},{"x":14.3,"y":1848,"z":38.5},{"x":15.25,"y":1848,"z":41.1},{"x":16.2,"y":1848,"z":43.6},{"x":17.15,"y":1848,"z":46.1},{"x":18.1,"y":1848,"z":48.7},{"x":19.05,"y":1848,"z":51.2},{"x":20,"y":1848,"z":53.7},
{"x":1,"y":1924,"z":3.3},{"x":1.95,"y":1924,"z":5.9},{"x":2.9,"y":1924,"z":8.4},{"x":3.85,"y":1924,"z":11},{"x":4.8,"y":1924,"z":13.6},{"x":5.75,"y":1924,"z":16.2},{"x":6.7,"y":1924,"z":18.8},{"x":7.65,"y":1924,"z":21.4},{"x":8.6,"y":1924,"z":24},{"x":9.55,"y":1924,"z":26.6},{"x":10.5,"y":1924,"z":29.2},{"x":11.45,"y":1924,"z":31.8},{"x":12.4,"y":1924,"z":34.4},{"x":13.35,"y":1924,"z":37},{"x":14.3,"y":1924,"z":39.6},{"x":15.25,"y":1924,"z":42.2},{"x":16.2,"y":1924,"z":44.8},{"x":17.15,"y":1924,"z":47.4},{"x":18.1,"y":1924,"z":50},{"x":19.05,"y":1924,"z":52.6},{"x":20,"y":1924,"z":55.2},
{"x":1,"y":2000,"z":3.5},{"x":1.95,"y":2000,"z":6.1},{"x":2.9,"y":2000,"z":8.8},{"x":3.85,"y":2000,"z":11.5},{"x":4.8,"y":2000,"z":14.1},{"x":5.75,"y":2000,"z":16.8},{"x":6.7,"y":2000,"z":19.5},{"x":7.65,"y":2000,"z":22.1},{"x":8.6,"y":2000,"z":24.8},{"x":9.55,"y":2000,"z":27.5},{"x":10.5,"y":2000,"z":30.1},{"x":11.45,"y":2000,"z":32.8},{"x":12.4,"y":2000,"z":35.5},{"x":13.35,"y":2000,"z":38.1},{"x":14.3,"y":2000,"z":40.8},{"x":15.25,"y":2000,"z":43.5},{"x":16.2,"y":2000,"z":46.1},{"x":17.15,"y":2000,"z":48.8},{"x":18.1,"y":2000,"z":51.5},{"x":19.05,"y":2000,"z":54.1},{"x":20,"y":2000,"z":56.8}],
"segL":[
{"k":"g","x1":5,"y1":0,"z1":0.5,"x2":5,"y2":2000,"z2":0.5},{"k":"g","x1":10,"y1":0,"z1":0.5,"x2":10,"y2":2000,"z2":0.5},{"k":"g","x1":15,"y1":0,"z1":0.5,"x2":15,"y2":2000,"z2":0.5},{"k":"g","x1":20,"y1":0,"z1":0.5,"x2":20,"y2":2000,"z2":0.5},
{"k":"g","x1":0,"y1":500,"z1":0.5,"x2":20,"y2":500,"z2":0.5},{"k":"g","x1":0,"y1":1000,"z1":0.5,"x2":20,"y2":1000,"z2":0.5},{"k":"g","x1":0,"y1":1500,"z1":0.5,"x2":20,"y2":1500,"z2":0.5},{"k":"g","x1":0,"y1":2000,"z1":0.5,"x2":20,"y2":2000,"z2":0.5},
{"k":"g","x1":5,"y1":2000,"z1":0.5,"x2":5,"y2":2000,"z2":3.5},{"k":"g","x1":10,"y1":2000,"z1":0.5,"x2":10,"y2":2000,"z2":3.5},{"k":"g","x1":15,"y1":2000,"z1":0.5,"x2":15,"y2":2000,"z2":3.5},{"k":"g","x1":20,"y1":2000,"z1":0.5,"x2":20,"y2":2000,"z2":3.5},
{"k":"g","x1":20,"y1":0,"z1":0.5,"x2":20,"y2":0,"z2":3.5},{"k":"g","x1":20,"y1":500,"z1":0.5,"x2":20,"y2":500,"z2":3.5},{"k":"g","x1":20,"y1":1000,"z1":0.5,"x2":20,"y2":1000,"z2":3.5},{"k":"g","x1":20,"y1":1500,"z1":0.5,"x2":20,"y2":1500,"z2":3.5},
{"k":"g","x1":0,"y1":2000,"z1":1,"x2":20,"y2":2000,"z2":1},{"k":"g","x1":0,"y1":2000,"z1":1.5,"x2":20,"y2":2000,"z2":1.5},{"k":"g","x1":0,"y1":2000,"z1":2,"x2":20,"y2":2000,"z2":2},{"k":"g","x1":0,"y1":2000,"z1":2.5,"x2":20,"y2":2000,"z2":2.5},{"k":"g","x1":0,"y1":2000,"z1":3,"x2":20,"y2":2000,"z2":3},{"k":"g","x1":0,"y1":2000,"z1":3.5,"x2":20,"y2":2000,"z2":3.5},
{"k":"g","x1":20,"y1":0,"z1":1,"x2":20,"y2":2000,"z2":1},{"k":"g","x1":20,"y1":0,"z1":1.5,"x2":20,"y2":2000,"z2":1.5},{"k":"g","x1":20,"y1":0,"z1":2,"x2":20,"y2":2000,"z2":2},{"k":"g","x1":20,"y1":0,"z1":2.5,"x2":20,"y2":2000,"z2":2.5},{"k":"g","x1":20,"y1":0,"z1":3,"x2":20,"y2":2000,"z2":3},{"k":"g","x1":20,"y1":0,"z1":3.5,"x2":20,"y2":2000,"z2":3.5},
{"k":"a","x1":0,"y1":0,"z1":0.5,"x2":20,"y2":0,"z2":0.5},{"k":"a","x1":0,"y1":0,"z1":0.5,"x2":0,"y2":2000,"z2":0.5},{"k":"z","x1":0,"y1":2000,"z1":0.5,"x2":0,"y2":2000,"z2":3.5},
{"k":"a","x1":0,"y1":0,"z1":0.5,"x2":0,"y2":-60,"z2":0.5},{"k":"a","x1":5,"y1":0,"z1":0.5,"x2":5,"y2":-60,"z2":0.5},{"k":"a","x1":10,"y1":0,"z1":0.5,"x2":10,"y2":-60,"z2":0.5},{"k":"a","x1":15,"y1":0,"z1":0.5,"x2":15,"y2":-60,"z2":0.5},{"k":"a","x1":20,"y1":0,"z1":0.5,"x2":20,"y2":-60,"z2":0.5},
{"k":"a","x1":0,"y1":0,"z1":0.5,"x2":-0.45,"y2":0,"z2":0.5},{"k":"a","x1":0,"y1":500,"z1":0.5,"x2":-0.45,"y2":500,"z2":0.5},{"k":"a","x1":0,"y1":1000,"z1":0.5,"x2":-0.45,"y2":1000,"z2":0.5},{"k":"a","x1":0,"y1":1500,"z1":0.5,"x2":-0.45,"y2":1500,"z2":0.5},{"k":"a","x1":0,"y1":2000,"z1":0.5,"x2":-0.45,"y2":2000,"z2":0.5},
{"k":"a","x1":0,"y1":2000,"z1":1,"x2":-0.45,"y2":2000,"z2":1},{"k":"a","x1":0,"y1":2000,"z1":1.5,"x2":-0.45,"y2":2000,"z2":1.5},{"k":"a","x1":0,"y1":2000,"z1":2,"x2":-0.45,"y2":2000,"z2":2},{"k":"a","x1":0,"y1":2000,"z1":2.5,"x2":-0.45,"y2":2000,"z2":2.5},{"k":"a","x1":0,"y1":2000,"z1":3,"x2":-0.45,"y2":2000,"z2":3},{"k":"a","x1":0,"y1":2000,"z1":3.5,"x2":-0.45,"y2":2000,"z2":3.5}],
"segR":[
{"k":"g","x1":5,"y1":0,"z1":0,"x2":5,"y2":2000,"z2":0},{"k":"g","x1":10,"y1":0,"z1":0,"x2":10,"y2":2000,"z2":0},{"k":"g","x1":15,"y1":0,"z1":0,"x2":15,"y2":2000,"z2":0},{"k":"g","x1":20,"y1":0,"z1":0,"x2":20,"y2":2000,"z2":0},
{"k":"g","x1":0,"y1":500,"z1":0,"x2":20,"y2":500,"z2":0},{"k":"g","x1":0,"y1":1000,"z1":0,"x2":20,"y2":1000,"z2":0},{"k":"g","x1":0,"y1":1500,"z1":0,"x2":20,"y2":1500,"z2":0},{"k":"g","x1":0,"y1":2000,"z1":0,"x2":20,"y2":2000,"z2":0},
{"k":"g","x1":5,"y1":2000,"z1":0,"x2":5,"y2":2000,"z2":60},{"k":"g","x1":10,"y1":2000,"z1":0,"x2":10,"y2":2000,"z2":60},{"k":"g","x1":15,"y1":2000,"z1":0,"x2":15,"y2":2000,"z2":60},{"k":"g","x1":20,"y1":2000,"z1":0,"x2":20,"y2":2000,"z2":60},
{"k":"g","x1":20,"y1":0,"z1":0,"x2":20,"y2":0,"z2":60},{"k":"g","x1":20,"y1":500,"z1":0,"x2":20,"y2":500,"z2":60},{"k":"g","x1":20,"y1":1000,"z1":0,"x2":20,"y2":1000,"z2":60},{"k":"g","x1":20,"y1":1500,"z1":0,"x2":20,"y2":1500,"z2":60},
{"k":"g","x1":0,"y1":2000,"z1":10,"x2":20,"y2":2000,"z2":10},{"k":"g","x1":0,"y1":2000,"z1":20,"x2":20,"y2":2000,"z2":20},{"k":"g","x1":0,"y1":2000,"z1":30,"x2":20,"y2":2000,"z2":30},{"k":"g","x1":0,"y1":2000,"z1":40,"x2":20,"y2":2000,"z2":40},{"k":"g","x1":0,"y1":2000,"z1":50,"x2":20,"y2":2000,"z2":50},{"k":"g","x1":0,"y1":2000,"z1":60,"x2":20,"y2":2000,"z2":60},
{"k":"g","x1":20,"y1":0,"z1":10,"x2":20,"y2":2000,"z2":10},{"k":"g","x1":20,"y1":0,"z1":20,"x2":20,"y2":2000,"z2":20},{"k":"g","x1":20,"y1":0,"z1":30,"x2":20,"y2":2000,"z2":30},{"k":"g","x1":20,"y1":0,"z1":40,"x2":20,"y2":2000,"z2":40},{"k":"g","x1":20,"y1":0,"z1":50,"x2":20,"y2":2000,"z2":50},{"k":"g","x1":20,"y1":0,"z1":60,"x2":20,"y2":2000,"z2":60},
{"k":"a","x1":0,"y1":0,"z1":0,"x2":20,"y2":0,"z2":0},{"k":"a","x1":0,"y1":0,"z1":0,"x2":0,"y2":2000,"z2":0},{"k":"z","x1":0,"y1":2000,"z1":0,"x2":0,"y2":2000,"z2":60},
{"k":"a","x1":0,"y1":0,"z1":0,"x2":0,"y2":-60,"z2":0},{"k":"a","x1":5,"y1":0,"z1":0,"x2":5,"y2":-60,"z2":0},{"k":"a","x1":10,"y1":0,"z1":0,"x2":10,"y2":-60,"z2":0},{"k":"a","x1":15,"y1":0,"z1":0,"x2":15,"y2":-60,"z2":0},{"k":"a","x1":20,"y1":0,"z1":0,"x2":20,"y2":-60,"z2":0},
{"k":"a","x1":0,"y1":0,"z1":0,"x2":-0.45,"y2":0,"z2":0},{"k":"a","x1":0,"y1":500,"z1":0,"x2":-0.45,"y2":500,"z2":0},{"k":"a","x1":0,"y1":1000,"z1":0,"x2":-0.45,"y2":1000,"z2":0},{"k":"a","x1":0,"y1":1500,"z1":0,"x2":-0.45,"y2":1500,"z2":0},{"k":"a","x1":0,"y1":2000,"z1":0,"x2":-0.45,"y2":2000,"z2":0},
{"k":"a","x1":0,"y1":2000,"z1":10,"x2":-0.45,"y2":2000,"z2":10},{"k":"a","x1":0,"y1":2000,"z1":20,"x2":-0.45,"y2":2000,"z2":20},{"k":"a","x1":0,"y1":2000,"z1":30,"x2":-0.45,"y2":2000,"z2":30},{"k":"a","x1":0,"y1":2000,"z1":40,"x2":-0.45,"y2":2000,"z2":40},{"k":"a","x1":0,"y1":2000,"z1":50,"x2":-0.45,"y2":2000,"z2":50},{"k":"a","x1":0,"y1":2000,"z1":60,"x2":-0.45,"y2":2000,"z2":60}],
"labL":[
{"x":0,"y":0,"z":0.5,"t":"0","r":"y"},{"x":0,"y":500,"z":0.5,"t":"500","r":"y"},{"x":0,"y":1000,"z":0.5,"t":"1000","r":"y"},{"x":0,"y":1500,"z":0.5,"t":"1500","r":"y"},{"x":0,"y":2000,"z":0.5,"t":"2000","r":"y"},
{"x":0,"y":0,"z":0.5,"t":"0","r":"x"},{"x":5,"y":0,"z":0.5,"t":"5","r":"x"},{"x":10,"y":0,"z":0.5,"t":"10","r":"x"},{"x":15,"y":0,"z":0.5,"t":"15","r":"x"},{"x":20,"y":0,"z":0.5,"t":"20","r":"x"},
{"x":0,"y":2000,"z":0.5,"t":"0.5","r":"z"},{"x":0,"y":2000,"z":1,"t":"1","r":"z"},{"x":0,"y":2000,"z":1.5,"t":"1.5","r":"z"},{"x":0,"y":2000,"z":2,"t":"2","r":"z"},{"x":0,"y":2000,"z":2.5,"t":"2.5","r":"z"},{"x":0,"y":2000,"z":3,"t":"3","r":"z"},{"x":0,"y":2000,"z":3.5,"t":"3.5","r":"z"},
{"x":-9.75,"y":428,"z":0.5,"t":"Vazão alim. (kg/a)","r":"l"},{"x":2.4,"y":-959,"z":0.5,"t":"Pressão de Prod. (mbar)","r":"l"}],
"labR":[
{"x":0,"y":0,"z":0,"t":"0","r":"y"},{"x":0,"y":500,"z":0,"t":"500","r":"y"},{"x":0,"y":1000,"z":0,"t":"1000","r":"y"},{"x":0,"y":1500,"z":0,"t":"1500","r":"y"},{"x":0,"y":2000,"z":0,"t":"2000","r":"y"},
{"x":0,"y":0,"z":0,"t":"0","r":"x"},{"x":5,"y":0,"z":0,"t":"5","r":"x"},{"x":10,"y":0,"z":0,"t":"10","r":"x"},{"x":15,"y":0,"z":0,"t":"15","r":"x"},{"x":20,"y":0,"z":0,"t":"20","r":"x"},
{"x":0,"y":2000,"z":0,"t":"0","r":"z"},{"x":0,"y":2000,"z":10,"t":"10","r":"z"},{"x":0,"y":2000,"z":20,"t":"20","r":"z"},{"x":0,"y":2000,"z":30,"t":"30","r":"z"},{"x":0,"y":2000,"z":40,"t":"40","r":"z"},{"x":0,"y":2000,"z":50,"t":"50","r":"z"},{"x":0,"y":2000,"z":60,"t":"60","r":"z"},
{"x":-9.6,"y":444,"z":0,"t":"Vazão alim. (kg/a)","r":"l"},{"x":2.72,"y":-958,"z":0,"t":"Pressão de Prod. (mbar)","r":"l"}]},
"hconcat":[{"width":644,"height":464,"title":{"text":"Poder de Separação dU (UTS/a)","dx":-5},"projection":{"type":"identity","reflectY":true,"scale":1,"translate":[285,410]},
"layer":[
{"data":{"name":"segL"},"transform":[{"calculate":"14.6*datum.x1-0.1135*datum.y1","as":"a1"},{"calculate":"3.9*datum.x1+0.0515*datum.y1+75.5*(datum.z1-0.5)","as":"b1"},{"calculate":"14.6*datum.x2-0.1135*datum.y2","as":"a2"},{"calculate":"3.9*datum.x2+0.0515*datum.y2+75.5*(datum.z2-0.5)","as":"b2"}],"mark":{"type":"rule"},"encoding":{"longitude":{"field":"a1","type":"quantitative"},"latitude":{"field":"b1","type":"quantitative"},"longitude2":{"field":"a2"},"latitude2":{"field":"b2"},"color":{"field":"k","type":"nominal","scale":{"domain":["g","a","z"],"range":["#e4e4e4","#555555","#8c8c8c"]},"legend":null},"strokeWidth":{"field":"k","type":"nominal","scale":{"domain":["g","a","z"],"range":[1,1,2]},"legend":null}}},
{"data":{"name":"gridL"},"transform":[{"window":[{"op":"lead","field":"z","param":1,"as":"zE"},{"op":"lead","field":"x","param":1,"as":"xE"}],"groupby":["y"],"sort":[{"field":"x","order":"ascending"}]},{"window":[{"op":"lead","field":"y","param":1,"as":"yN"},{"op":"lead","field":"z","param":1,"as":"zN"},{"op":"lead","field":"zE","param":1,"as":"zNE"}],"groupby":["x"],"sort":[{"field":"y","order":"ascending"}]},{"filter":"isValid(datum.zE)&&isValid(datum.zN)&&isValid(datum.zNE)"},{"calculate":"{type:'Feature',properties:{},geometry:{type:'Polygon',coordinates:[[[14.6*datum.x-0.1135*datum.y,3.9*datum.x+0.0515*datum.y+75.5*(datum.z-0.5)],[14.6*datum.xE-0.1135*datum.y,3.9*datum.xE+0.0515*datum.y+75.5*(datum.zE-0.5)],[14.6*datum.xE-0.1135*datum.yN,3.9*datum.xE+0.0515*datum.yN+75.5*(datum.zNE-0.5)],[14.6*datum.x-0.1135*datum.yN,3.9*datum.x+0.0515*datum.yN+75.5*(datum.zN-0.5)],[14.6*datum.x-0.1135*datum.y,3.9*datum.x+0.0515*datum.y+75.5*(datum.z-0.5)]]]}}","as":"cell"}],"mark":{"type":"geoshape","stroke":"#111111","strokeWidth":1.2},"encoding":{"shape":{"field":"cell","type":"geojson"},"color":{"field":"z","type":"quantitative","scale":{"clamp":true,"domain":[0.52,0.81,1.09,1.38,1.66,1.95,2.23,2.52,2.8,3.0,3.42],"range":["#352A87","#0F5CDD","#0F78E0","#1090D8","#05ABC8","#1FB5AA","#5CBF8A","#A5BE6A","#DDB851","#FCBA3D","#F9FB0E"]},"legend":null}}},
{"data":{"name":"labL"},"transform":[{"filter":"datum.r=='y'"},{"calculate":"14.6*datum.x-0.1135*datum.y","as":"a"},{"calculate":"3.9*datum.x+0.0515*datum.y+75.5*(datum.z-0.5)","as":"b"}],"mark":{"type":"text","align":"right","baseline":"middle","dx":-13,"dy":16,"fontSize":15.5,"color":"#404040"},"encoding":{"longitude":{"field":"a","type":"quantitative"},"latitude":{"field":"b","type":"quantitative"},"text":{"field":"t"}}},
{"data":{"name":"labL"},"transform":[{"filter":"datum.r=='x'"},{"calculate":"14.6*datum.x-0.1135*datum.y","as":"a"},{"calculate":"3.9*datum.x+0.0515*datum.y+75.5*(datum.z-0.5)","as":"b"}],"mark":{"type":"text","align":"left","baseline":"middle","dx":11,"dy":18,"fontSize":15.5,"color":"#404040"},"encoding":{"longitude":{"field":"a","type":"quantitative"},"latitude":{"field":"b","type":"quantitative"},"text":{"field":"t"}}},
{"data":{"name":"labL"},"transform":[{"filter":"datum.r=='z'"},{"calculate":"14.6*datum.x-0.1135*datum.y","as":"a"},{"calculate":"3.9*datum.x+0.0515*datum.y+75.5*(datum.z-0.5)","as":"b"}],"mark":{"type":"text","align":"right","baseline":"middle","dx":-12,"dy":-2,"fontSize":15.5,"color":"#404040"},"encoding":{"longitude":{"field":"a","type":"quantitative"},"latitude":{"field":"b","type":"quantitative"},"text":{"field":"t"}}},
{"data":{"name":"labL"},"transform":[{"filter":"datum.r=='l'"},{"calculate":"14.6*datum.x-0.1135*datum.y","as":"a"},{"calculate":"3.9*datum.x+0.0515*datum.y+75.5*(datum.z-0.5)","as":"b"}],"mark":{"type":"text","align":"center","baseline":"middle","fontSize":18,"color":"#404040"},"encoding":{"longitude":{"field":"a","type":"quantitative"},"latitude":{"field":"b","type":"quantitative"},"text":{"field":"t"}}}
]},
{"width":644,"height":464,"title":{"text":"Pressão de Rejeito (mbar)","dx":16},"projection":{"type":"identity","reflectY":true,"scale":1,"translate":[285,410]},
"layer":[
{"data":{"name":"segR"},"transform":[{"calculate":"20+14.6*datum.x1-0.112*datum.y1","as":"a1"},{"calculate":"-1+3.97*datum.x1+0.052*datum.y1+3.767*datum.z1","as":"b1"},{"calculate":"20+14.6*datum.x2-0.112*datum.y2","as":"a2"},{"calculate":"-1+3.97*datum.x2+0.052*datum.y2+3.767*datum.z2","as":"b2"}],"mark":{"type":"rule"},"encoding":{"longitude":{"field":"a1","type":"quantitative"},"latitude":{"field":"b1","type":"quantitative"},"longitude2":{"field":"a2"},"latitude2":{"field":"b2"},"color":{"field":"k","type":"nominal","scale":{"domain":["g","a","z"],"range":["#e4e4e4","#555555","#8c8c8c"]},"legend":null},"strokeWidth":{"field":"k","type":"nominal","scale":{"domain":["g","a","z"],"range":[1,1,2]},"legend":null}}},
{"data":{"name":"gridR"},"transform":[{"window":[{"op":"lead","field":"z","param":1,"as":"zE"},{"op":"lead","field":"x","param":1,"as":"xE"}],"groupby":["y"],"sort":[{"field":"x","order":"ascending"}]},{"window":[{"op":"lead","field":"y","param":1,"as":"yN"},{"op":"lead","field":"z","param":1,"as":"zN"},{"op":"lead","field":"zE","param":1,"as":"zNE"}],"groupby":["x"],"sort":[{"field":"y","order":"ascending"}]},{"filter":"isValid(datum.zE)&&isValid(datum.zN)&&isValid(datum.zNE)"},{"calculate":"{type:'Feature',properties:{},geometry:{type:'Polygon',coordinates:[[[20+14.6*datum.x-0.112*datum.y,-1+3.97*datum.x+0.052*datum.y+3.767*datum.z],[20+14.6*datum.xE-0.112*datum.y,-1+3.97*datum.xE+0.052*datum.y+3.767*datum.zE],[20+14.6*datum.xE-0.112*datum.yN,-1+3.97*datum.xE+0.052*datum.yN+3.767*datum.zNE],[20+14.6*datum.x-0.112*datum.yN,-1+3.97*datum.x+0.052*datum.yN+3.767*datum.zN],[20+14.6*datum.x-0.112*datum.y,-1+3.97*datum.x+0.052*datum.y+3.767*datum.z]]]}}","as":"cell"}],"mark":{"type":"geoshape","stroke":"#111111","strokeWidth":1.2},"encoding":{"shape":{"field":"cell","type":"geojson"},"color":{"field":"z","type":"quantitative","scale":{"clamp":true,"domain":[2,7.48,12.96,18.44,23.92,29.4,34.88,40.36,45.84,49.68,56.8],"range":["#352A87","#0F5CDD","#0F78E0","#1090D8","#05ABC8","#1FB5AA","#5CBF8A","#A5BE6A","#DDB851","#FCBA3D","#F9FB0E"]},"legend":null}}},
{"data":{"name":"labR"},"transform":[{"filter":"datum.r=='y'"},{"calculate":"20+14.6*datum.x-0.112*datum.y","as":"a"},{"calculate":"-1+3.97*datum.x+0.052*datum.y+3.767*datum.z","as":"b"}],"mark":{"type":"text","align":"right","baseline":"middle","dx":-13,"dy":16,"fontSize":15.5,"color":"#404040"},"encoding":{"longitude":{"field":"a","type":"quantitative"},"latitude":{"field":"b","type":"quantitative"},"text":{"field":"t"}}},
{"data":{"name":"labR"},"transform":[{"filter":"datum.r=='x'"},{"calculate":"20+14.6*datum.x-0.112*datum.y","as":"a"},{"calculate":"-1+3.97*datum.x+0.052*datum.y+3.767*datum.z","as":"b"}],"mark":{"type":"text","align":"left","baseline":"middle","dx":11,"dy":18,"fontSize":15.5,"color":"#404040"},"encoding":{"longitude":{"field":"a","type":"quantitative"},"latitude":{"field":"b","type":"quantitative"},"text":{"field":"t"}}},
{"data":{"name":"labR"},"transform":[{"filter":"datum.r=='z'"},{"calculate":"20+14.6*datum.x-0.112*datum.y","as":"a"},{"calculate":"-1+3.97*datum.x+0.052*datum.y+3.767*datum.z","as":"b"}],"mark":{"type":"text","align":"right","baseline":"middle","dx":-12,"dy":-2,"fontSize":15.5,"color":"#404040"},"encoding":{"longitude":{"field":"a","type":"quantitative"},"latitude":{"field":"b","type":"quantitative"},"text":{"field":"t"}}},
{"data":{"name":"labR"},"transform":[{"filter":"datum.r=='l'"},{"calculate":"20+14.6*datum.x-0.112*datum.y","as":"a"},{"calculate":"-1+3.97*datum.x+0.052*datum.y+3.767*datum.z","as":"b"}],"mark":{"type":"text","align":"center","baseline":"middle","fontSize":18,"color":"#404040"},"encoding":{"longitude":{"field":"a","type":"quantitative"},"latitude":{"field":"b","type":"quantitative"},"text":{"field":"t"}}}
]}]}
